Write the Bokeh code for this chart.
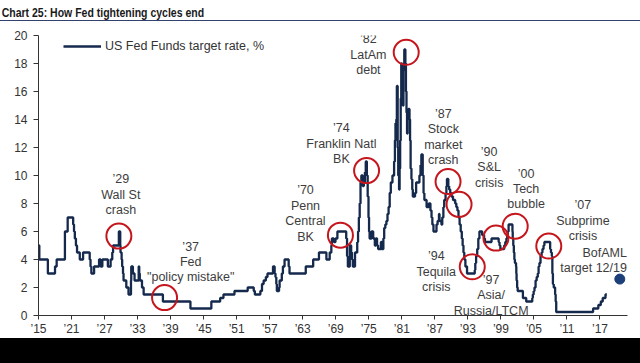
from bokeh.plotting import figure
from bokeh.models import FixedTicker, Div, Range1d
from bokeh.layouts import column
from bokeh.embed import file_html
from bokeh.resources import INLINE
from bokeh.core.properties import value

# ---- data ----
years = [1915.0, 1915.15, 1916.7, 1918.0, 1918.3, 1919.8, 1920.3, 1921.3, 1921.45, 1921.6,
         1921.8, 1922.0, 1922.5, 1923.1, 1924.3, 1924.45, 1924.6, 1925.1, 1926.0, 1926.3,
         1926.6, 1927.6, 1928.1, 1928.4, 1928.55, 1929.6, 1929.85, 1929.9, 1930.1, 1930.2,
         1930.35, 1930.45, 1930.95, 1931.35, 1931.8, 1931.85, 1932.15, 1932.45, 1933.2, 1933.3,
         1933.4, 1933.8, 1934.1, 1937.6, 1942.6, 1946.4, 1948.0, 1948.6, 1950.6, 1953.0,
         1954.1, 1954.3, 1955.3, 1955.6, 1955.9, 1956.3, 1956.6, 1957.6, 1957.9, 1958.05,
         1958.2, 1958.3, 1958.7, 1958.8, 1959.2, 1959.4, 1959.7, 1960.45, 1960.6, 1963.55,
         1964.9, 1965.95, 1967.3, 1967.9, 1968.2, 1968.3, 1968.65, 1968.95, 1969.3, 1970.9,
         1971.05, 1971.2, 1971.55, 1971.8, 1971.95, 1972.1, 1972.5, 1972.9, 1973.05, 1973.2,
         1973.35, 1973.5, 1973.65, 1973.9, 1974.1, 1974.3, 1974.45, 1974.65, 1974.8, 1974.95,
         1975.05, 1975.15, 1975.5, 1975.8, 1976.1, 1976.3, 1976.5, 1976.7, 1977.2, 1977.35,
         1977.65, 1977.8, 1978.0, 1978.2, 1978.4, 1978.6, 1978.8, 1979.0, 1979.3, 1979.6,
         1979.75, 1979.85, 1980.0, 1980.1, 1980.25, 1980.35, 1980.5, 1980.6, 1980.7, 1980.8,
         1980.9, 1981.05, 1981.2, 1981.3, 1981.45, 1981.65, 1981.75, 1981.85, 1981.95, 1982.05,
         1982.2, 1982.4, 1982.5, 1982.6, 1982.75, 1982.9, 1983.0, 1983.4, 1983.6, 1984.2,
         1984.4, 1984.55, 1984.8, 1984.95, 1985.1, 1985.5, 1985.9, 1986.2, 1986.4, 1986.55,
         1986.75, 1987.3, 1987.5, 1987.75, 1987.85, 1988.2, 1988.35, 1988.55, 1988.7, 1988.95,
         1989.1, 1989.2, 1989.45, 1989.6, 1989.8, 1990.0, 1990.3, 1990.7, 1990.9, 1991.1,
         1991.3, 1991.5, 1991.7, 1991.9, 1992.05, 1992.2, 1992.35, 1992.55, 1992.85, 1994.25,
         1994.35, 1994.5, 1994.7, 1994.9, 1995.1, 1995.6, 1995.95, 1996.1, 1997.3, 1998.6,
         1998.75, 1998.9, 1999.6, 1999.8, 2000.0, 2000.15, 2000.25, 2000.4, 2001.1, 2001.15,
         2001.25, 2001.35, 2001.45, 2001.55, 2001.75, 2001.8, 2001.85, 2001.95, 2002.05, 2003.0,
         2003.6, 2004.7, 2004.8, 2004.95, 2005.1, 2005.3, 2005.5, 2005.7, 2005.85, 2006.0,
         2006.2, 2006.4, 2006.55, 2006.75, 2006.9, 2007.95, 2008.1, 2008.25, 2008.35, 2008.45,
         2008.6, 2008.85, 2008.95, 2009.05, 2015.75, 2016.7, 2017.15, 2017.5, 2018.0, 2018.25]
rates = [5.0, 4.0, 3.0, 3.5, 4.0, 6.0, 7.0, 6.5, 6.0, 5.5,
         5.0, 4.5, 4.0, 4.5, 4.0, 3.5, 3.0, 3.5, 4.0, 3.5,
         4.0, 3.5, 4.0, 4.5, 5.0, 6.0, 5.0, 4.5, 4.0, 3.5,
         3.0, 2.5, 2.0, 1.5, 2.5, 3.5, 3.0, 2.5, 3.5, 3.0,
         2.5, 2.0, 1.5, 1.0, 0.5, 1.0, 1.25, 1.5, 1.75, 2.0,
         1.75, 1.5, 1.75, 2.25, 2.5, 2.75, 3.0, 3.5, 3.0, 2.75,
         2.25, 1.75, 2.0, 2.5, 3.0, 3.5, 4.0, 3.5, 3.0, 3.5,
         4.0, 4.5, 4.0, 4.5, 5.0, 5.5, 5.25, 5.5, 6.0, 5.5,
         4.25, 3.5, 5.0, 4.5, 4.0, 3.5, 4.5, 5.25, 6.0, 7.0,
         8.0, 9.5, 10.0, 9.25, 9.5, 10.25, 11.0, 10.0, 8.5, 7.0,
         6.0, 5.5, 6.0, 5.5, 5.0, 5.5, 5.0, 4.75, 5.25, 4.75,
         5.5, 6.25, 6.5, 6.75, 7.25, 7.75, 8.75, 9.5, 10.0, 11.0,
         12.5, 13.75, 14.0, 16.4, 12.0, 10.0, 9.0, 10.5, 12.5, 15.5,
         18.0, 16.0, 15.0, 17.5, 19.0, 18.0, 16.0, 14.5, 13.0, 14.0,
         14.75, 14.0, 12.5, 10.5, 9.75, 9.0, 8.5, 8.75, 9.5, 10.0,
         10.75, 11.5, 10.0, 8.75, 8.25, 7.75, 8.0, 7.5, 7.0, 6.5,
         6.0, 6.5, 6.75, 7.25, 6.75, 6.5, 7.0, 7.75, 8.25, 8.75,
         9.25, 9.75, 9.25, 9.0, 8.75, 8.5, 8.25, 8.0, 7.75, 7.5,
         7.0, 6.5, 6.0, 5.5, 5.0, 4.5, 4.0, 3.5, 3.0, 3.25,
         3.75, 4.25, 4.75, 5.5, 6.0, 5.75, 5.5, 5.25, 5.5, 5.25,
         5.0, 4.75, 5.0, 5.25, 5.5, 5.75, 6.0, 6.5, 6.0, 5.5,
         5.0, 4.5, 4.0, 3.75, 3.5, 3.0, 2.5, 2.0, 1.75, 1.25,
         1.0, 1.25, 1.5, 1.75, 2.0, 2.5, 2.75, 3.0, 3.5, 3.75,
         4.25, 4.5, 4.75, 5.0, 5.25, 4.75, 4.5, 4.25, 3.0, 2.25,
         2.0, 1.5, 1.0, 0.25, 0.5, 0.75, 1.0, 1.25, 1.5, 1.5]

event_years = [1929.6, 1937.9, 1969.85, 1974.6, 1981.8, 1989.4, 1991.4, 1993.8, 1998.1, 2001.6, 2007.7]
event_rates = [5.67, 1.28, 5.74, 10.35, 18.8, 9.57, 7.94, 3.48, 5.53, 6.38, 4.96]
event_labels = ["’29\nWall St\ncrash", "’37\nFed\n\"policy mistake\"", "’70\nPenn\nCentral\nBK",
                "’74\nFranklin Natl\nBK", "’82\nLatAm\ndebt", "’87\nStock\nmarket\ncrash",
                "’90\nS&L\ncrisis", "’94\nTequila\ncrisis", "’97\nAsia/\nRussia/LTCM",
                "’00\nTech\nbubble", "’07\nSubprime\ncrisis"]

target_year = [2020.6]
target_rate = [2.6]
target_label = ["BofAML\ntarget 12/19"]

tick_years = [1915, 1921, 1927, 1933, 1939, 1945, 1951, 1957, 1963, 1969,
              1975, 1981, 1987, 1993, 1999, 2005, 2011, 2017]
tick_labels = ["’15", "’21", "’27", "’33", "’39", "’45", "’51", "’57", "’63", "’69",
               "’75", "’81", "’87", "’93", "’99", "’05", "’11", "’17"]
y_ticks = [0, 2, 4, 6, 8, 10, 12, 14, 16, 18, 20]

series_name = "US Fed Funds target rate, %"
title_text = "Chart 25: How Fed tightening cycles end"

# label anchor positions (data coords)
label_x = [1929.96, 1942.65, 1963.5, 1970.03, 1974.93, 1988.53, 1996.87, 1987.26, 1997.23, 2003.58, 2013.9]
label_y = [8.62, 3.82, 7.28, 12.28, 18.64, 12.74, 10.58, 3.13, 1.44, 9.03, 6.77]

FONT = "Liberation Sans"
NAVY = "#15294d"
RED = "#c4161c"
TXT = "#3d3d3d"

p = figure(width=640, height=317, output_backend="svg", toolbar_location=None,
           x_range=Range1d(1915, 2022), y_range=Range1d(0, 20),
           min_border_left=38, min_border_right=13, min_border_top=14, min_border_bottom=20)
p.outline_line_color = None
p.xgrid.visible = False
p.ygrid.visible = False
p.background_fill_color = "white"
p.border_fill_color = "white"

p.step(years, rates, mode="after", line_color=NAVY, line_width=2.3, legend_label=series_name)

p.scatter(event_years, event_rates, marker="circle", size=25, fill_color=None,
          line_color=RED, line_width=2)
p.scatter(target_year, target_rate, marker="circle", size=10, fill_color="#1c3f7a",
          line_color="#1c3f7a")

p.text(x=label_x, y=label_y, text=event_labels, text_align="center", text_baseline="middle",
       text_font=value(FONT), text_font_size="12.5px", text_line_height=1.1, text_color=TXT)
p.text(x=[2021.9], y=[3.93], text=target_label, text_align="right", text_baseline="middle",
       text_font=value(FONT), text_font_size="12.5px", text_line_height=1.1, text_color=TXT)

for ax in (p.xaxis[0], p.yaxis[0]):
    ax.axis_line_color = "#333333"
    ax.major_tick_line_color = "#333333"
    ax.minor_tick_line_color = None
    ax.major_label_text_font = FONT
    ax.major_label_text_font_size = "12px"
    ax.major_label_text_color = "#333333"
    ax.major_tick_in = 0

p.xaxis[0].ticker = FixedTicker(ticks=tick_years)
p.xaxis[0].major_label_overrides = {t: l for t, l in zip(tick_years, tick_labels)}
p.xaxis[0].major_tick_out = 4
p.xaxis[0].major_label_standoff = 2
p.yaxis[0].ticker = FixedTicker(ticks=y_ticks)
p.yaxis[0].major_tick_out = 5
p.yaxis[0].major_label_standoff = 6

lg = p.legend[0]
lg.location = (25, 262)
lg.padding = 0
lg.margin = 0
lg.spacing = 0
lg.border_line_color = None
lg.background_fill_alpha = 0
lg.glyph_width = 38
lg.glyph_height = 14
lg.label_height = 14
lg.label_standoff = 4
lg.label_text_font = FONT
lg.label_text_font_size = "12.5px"
lg.label_text_color = "#333333"

title = Div(text='<div style="padding-top:7px;padding-left:2px;line-height:13px;white-space:nowrap;'
                 'display:inline-block;transform:scaleX(0.84);transform-origin:left top;">'
                 + title_text + '</div>',
            width=640, height=21, margin=0,
            styles={"font-family": "'Liberation Sans Narrow','Arial Narrow','Liberation Sans',sans-serif",
                    "font-weight": "bold", "font-size": "12.5px", "color": "#1a1a1a",
                    "border-bottom": "1.5px solid #34406e"})
band = Div(text="", width=640, height=25, margin=0, styles={"background-color": "black"})

layout = column(title, p, band, spacing=0)
open("out.html", "w").write(file_html(layout, INLINE))
